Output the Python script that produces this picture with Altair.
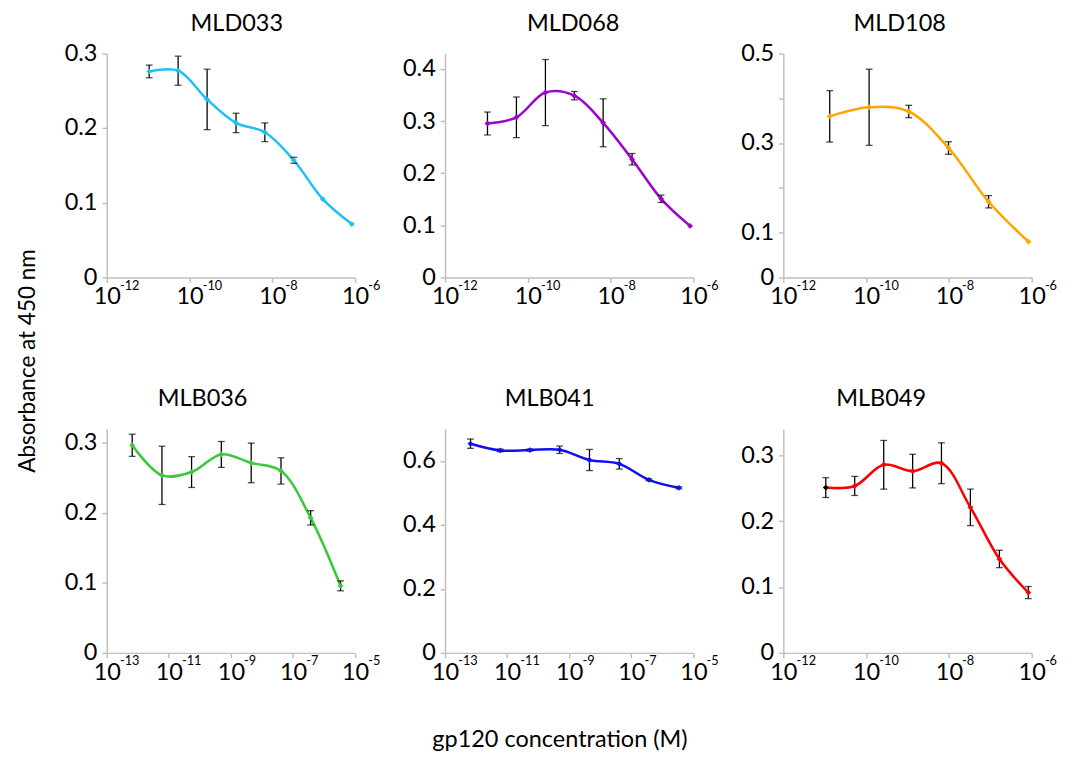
import altair as alt
import pandas as pd

# ---------------- data ----------------
names = ["MLD033", "MLD068", "MLD108", "MLB036", "MLB041", "MLB049"]
line_colors = ["#1CC2F2", "#9A05CE", "#FFA500", "#3CC83C", "#1010F2", "#FF0000"]

conc_mld_5fold = [1.06e-11, 5.3e-11, 2.66e-10, 1.33e-9, 6.6e-9, 3.3e-8, 1.66e-7, 8.3e-7]
conc_mld108 = [1.32e-11, 1.18e-10, 1.07e-9, 9.8e-9, 9.1e-8, 8.3e-7]
conc_mlb = [6.6e-13, 6.0e-12, 5.4e-11, 4.9e-10, 4.5e-9, 4.1e-8, 3.7e-7, 3.4e-6]

mld033_mean = [0.276, 0.277, 0.2385, 0.207, 0.1945, 0.157, 0.105, 0.0715]
mld033_sd = [0.0085, 0.0195, 0.0405, 0.013, 0.0125, 0.004, 0.0, 0.0]

mld068_mean = [0.2956, 0.3075, 0.355, 0.349, 0.297, 0.227, 0.151, 0.099]
mld068_sd = [0.022, 0.039, 0.0635, 0.008, 0.046, 0.011, 0.007, 0.0]

mld108_mean = [0.3597, 0.380, 0.3706, 0.289, 0.169, 0.080]
mld108_sd = [0.0575, 0.085, 0.0138, 0.014, 0.0138, 0.0]

mlb036_mean = [0.2967, 0.2537, 0.2584, 0.2836, 0.2715, 0.260, 0.193, 0.0958]
mlb036_sd = [0.0158, 0.0416, 0.022, 0.0185, 0.0283, 0.0188, 0.0102, 0.0071]

mlb041_mean = [0.654, 0.633, 0.634, 0.635, 0.603, 0.591, 0.541, 0.516]
mlb041_sd = [0.0145, 0.004, 0.003, 0.0115, 0.033, 0.0165, 0.003, 0.003]

mlb049_mean = [0.251, 0.2535, 0.2856, 0.276, 0.288, 0.221, 0.1426, 0.0916]
mlb049_sd = [0.015, 0.0145, 0.037, 0.0255, 0.031, 0.0277, 0.0132, 0.0092]

x_domain_a = [1e-12, 1e-6]
x_ticks_a = [1e-12, 1e-10, 1e-8, 1e-6]
x_domain_b = [1e-13, 1e-5]
x_ticks_b = [1e-13, 1e-11, 1e-9, 1e-7, 1e-5]

y_domains = [[0, 0.3], [0, 0.43], [0, 0.5], [0, 0.32], [0, 0.7], [0, 0.34]]
y_ticks = [
    [0, 0.1, 0.2, 0.3],
    [0, 0.1, 0.2, 0.3, 0.4],
    [0, 0.1, 0.2, 0.3, 0.4, 0.5],
    [0, 0.1, 0.2, 0.3],
    [0, 0.2, 0.4, 0.6],
    [0, 0.1, 0.2, 0.3],
]

y_title = "Absorbance at 450 nm"
x_title = "gp120 concentration (M)"

FONT = "Lato"
W, H = 254, 229


def panel(k, conc, mean, sd, xdom, xticks, title_dx=0, ytitle=False,
          xtitle=False, hide_labels=None, first_black=False):
    df = pd.DataFrame({"conc": conc, "mean": mean, "sd": sd})
    df["i"] = range(len(df))
    df["lo"] = df["mean"] - df["sd"]
    df["hi"] = df["mean"] + df["sd"]
    base = alt.Chart(df)
    xs = alt.Scale(type="log", domain=xdom, nice=False)
    ys = alt.Scale(domain=y_domains[k], nice=False, zero=False)

    ylab = "format(datum.value, '~g')"
    if hide_labels:
        cond = " || ".join(f"datum.value == {v}" for v in hide_labels)
        ylab = f"({cond}) ? '' : format(datum.value, '~g')"

    yaxis_kw = dict(values=y_ticks[k], labelExpr=ylab, tickSize=5,
                    labelPadding=5, title=None, orient="left")
    if ytitle:
        yaxis_kw.update(title=y_title, titleX=-74, titleY=314,
                        titleBaseline="alphabetic", titleAlign="center",
                        titleAngle=270, titleFont=FONT, titleFontSize=23,
                        titleFontWeight="normal", titleColor="black")
    yaxis = alt.Axis(**yaxis_kw)

    xaxis_kw = dict(values=xticks, labelExpr="'10'", tickSize=5,
                    labelPadding=3, orient="bottom", title=None,
                    labelFlush=False, labelOverlap=False)
    if xtitle:
        xaxis_kw.update(title=x_title, titleX=117, titleY=96,
                        titleBaseline="alphabetic", titleAlign="center",
                        titleFont=FONT, titleFontSize=24,
                        titleFontWeight="normal", titleColor="black")
    xaxis_main = alt.Axis(**xaxis_kw)
    xaxis_exp = alt.Axis(values=xticks, orient="bottom", title=None,
                         domain=False, ticks=False, labelFlush=False,
                         labelOverlap=False, labelPadding=2,
                         labelExpr="'-' + format(-round(log(datum.value) / LN10), 'd')",
                         labelFontSize=13, labelAlign="left", labelOffset=13)

    color = line_colors[k]
    line = base.mark_line(interpolate="catmull-rom", strokeWidth=2.6,
                          color=color).encode(
        x=alt.X("conc:Q", scale=xs, axis=xaxis_main),
        y=alt.Y("mean:Q", scale=ys, axis=yaxis),
    )
    pt_color = alt.value(color)
    if first_black:
        pt_color = alt.condition("datum.i == 0", alt.value("black"), alt.value(color))
    pts = base.mark_point(shape="diamond", filled=True, size=36, opacity=1).encode(
        x=alt.X("conc:Q", scale=xs, axis=None),
        y=alt.Y("mean:Q", scale=ys, axis=None),
        color=pt_color,
    )
    err = base.transform_filter("datum.sd > 0")
    rules = err.mark_rule(color="black", strokeWidth=1.3).encode(
        x=alt.X("conc:Q", scale=xs, axis=xaxis_exp),
        y=alt.Y("lo:Q", scale=ys, axis=None),
        y2="hi:Q",
    )
    cap_lo = err.mark_tick(color="black", thickness=1.3, size=7,
                           orient="horizontal").encode(
        x=alt.X("conc:Q", scale=xs, axis=None),
        y=alt.Y("lo:Q", scale=ys, axis=None),
    )
    cap_hi = err.mark_tick(color="black", thickness=1.3, size=7,
                           orient="horizontal").encode(
        x=alt.X("conc:Q", scale=xs, axis=None),
        y=alt.Y("hi:Q", scale=ys, axis=None),
    )
    head = alt.Chart(pd.DataFrame({"name": [names[k]]})).mark_text(
        font=FONT, fontSize=24, color="black", baseline="alphabetic",
        align="center", dx=title_dx,
    ).encode(text="name:N", x=alt.value(W / 2), y=alt.value(-23))
    return alt.layer(line, rules, cap_lo, cap_hi, pts, head).resolve_axis(
        x="independent", y="independent"
    ).properties(width=W, height=H)


p1 = panel(0, conc_mld_5fold, mld033_mean, mld033_sd, x_domain_a, x_ticks_a,
           title_dx=6, ytitle=True)
p2 = panel(1, conc_mld_5fold, mld068_mean, mld068_sd, x_domain_a, x_ticks_a,
           title_dx=4)
p3 = panel(2, conc_mld108, mld108_mean, mld108_sd, x_domain_a, x_ticks_a,
           title_dx=-8, hide_labels=[0.2, 0.4])
p4 = panel(3, conc_mlb, mlb036_mean, mlb036_sd, x_domain_b, x_ticks_b,
           title_dx=-29)
p5 = panel(4, conc_mlb, mlb041_mean, mlb041_sd, x_domain_b, x_ticks_b,
           title_dx=-20, xtitle=True)
p6 = panel(5, conc_mld_5fold, mlb049_mean, mlb049_sd, x_domain_a, x_ticks_a,
           title_dx=-27, first_black=True)

chart = alt.concat(
    p1, p2, p3, p4, p5, p6, columns=3,
    spacing={"row": 155, "column": 92}, bounds="flush",
).properties(
    padding={"left": 9, "top": -4, "right": 5, "bottom": 0},
    background="white",
).configure_view(stroke=None).configure_axis(
    grid=False,
    domainColor="#BFBFBF", domainWidth=1.5,
    tickColor="#BFBFBF", tickWidth=1.5,
    labelFont=FONT, labelFontSize=24, labelColor="black",
)

chart.save("out.html", embed_options={"renderer": "svg", "actions": False})
